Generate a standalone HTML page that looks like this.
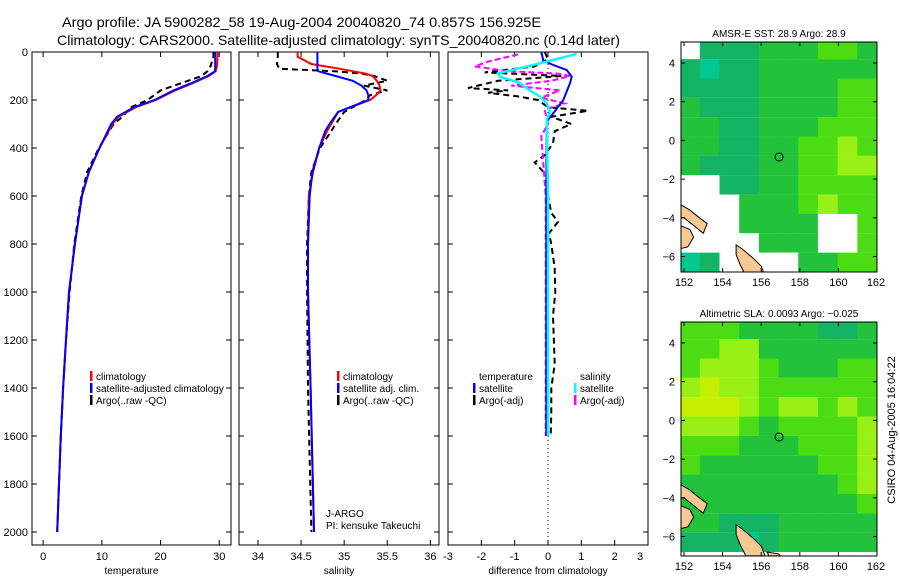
<!DOCTYPE html>
<html><head><meta charset="utf-8"><style>
html,body{margin:0;padding:0;background:#fff;}
svg{display:block;font-family:"Liberation Sans",sans-serif;}
</style></head><body>
<svg id="fig" width="900" height="580" viewBox="0 0 900 580" xmlns="http://www.w3.org/2000/svg">
<text x="62" y="27" font-size="14" textLength="479" lengthAdjust="spacingAndGlyphs">Argo profile: JA 5900282_58 19-Aug-2004 20040820_74 0.857S 156.925E</text>
<text x="57" y="45" font-size="14" textLength="563" lengthAdjust="spacingAndGlyphs">Climatology: CARS2000. Satellite-adjusted climatology: synTS_20040820.nc (0.14d later)</text>
<g id="g"></g>
<text transform="translate(895,430) rotate(-90)" text-anchor="middle" font-size="11">CSIRO 04-Aug-2005 16:04:22</text>
</svg>
<script>
// ---- profile data ----
const tDepth=[0,20,60,80,100,130,160,200,230,270,300,400,500,600,800,1000,1200,1400,1600,1800,2000];
const tClim=[29.7,29.7,29.6,29.4,28.2,25.5,22.5,19.2,15.8,12.8,11.8,9.6,7.8,6.6,5.4,4.4,3.9,3.4,3.0,2.7,2.4];
const tSat=[29.3,29.3,29.3,29.3,28.0,25.2,22.2,19.0,15.5,12.6,11.6,9.6,7.8,6.6,5.4,4.4,3.9,3.4,3.0,2.7,2.4];
const tArgo=[29.0,29.0,28.5,28.0,27.0,23.5,20.0,17.8,15.0,13.5,12.0,9.5,7.5,6.5,5.3,4.5,3.9,3.4,3.0,2.7,2.4];
const sDepth=[0,20,50,70,80,90,100,120,140,160,180,200,250,300,330,400,500,600,800,1000,1400,2000];
const sClim=[34.46,34.46,34.62,34.95,35.10,35.25,35.33,35.38,35.41,35.42,35.37,35.3,34.93,34.85,34.8,34.71,34.64,34.59,34.58,34.58,34.61,34.65];
const sSat=[34.69,34.69,34.69,34.69,34.7,34.8,34.9,35.1,35.2,35.26,35.28,35.28,34.93,34.83,34.78,34.71,34.63,34.6,34.58,34.58,34.61,34.65];
const sArgo=[34.23,34.23,34.22,34.25,34.88,35.2,35.35,35.5,35.23,35.5,35.3,35.25,35.0,34.9,34.85,34.72,34.62,34.59,34.57,34.57,34.58,34.62];
const tdDepth=[0,36,54,75,103,130,200,255,290,600,1000,1600];
const tdSat=[-0.2,-0.14,0.16,0.56,0.71,0.66,0.46,0.16,-0.04,-0.05,-0.05,-0.05];
const sdDepth=[8,47,89,103,130,165,186,214,249,283,600,1000,1600];
const sdSat=[0.86,-0.24,-1.5,-1.44,-0.84,-0.49,-0.24,-0.04,0.06,-0.04,0,0,0];
const mdDepth=[10,40,60,80,90,100,120,140,160,190,215,240,300,350,600,1000,1600];
const mdArgo=[-0.9,-1.8,-2.2,-1.2,0.3,0.66,0.1,-1.1,0.36,-0.2,0.5,-0.1,0,-0.2,-0.07,-0.07,-0.07];
const bdDepth=[0,30,60,85,100,120,150,160,170,185,200,230,245,270,300,330,380,430,460,520,600,670,708,755,800,900,1000,1100,1300,1400,1500,1600];
const bdArgo=[-0.1,0,-0.4,-1.9,0.4,-1.5,-2.4,-1.2,-1.8,-0.9,-0.3,0,1.2,0.1,0.7,0.2,0.15,-0.1,-0.4,0,0,0.1,0.3,0.03,0.1,0.2,0.22,0.15,0.2,0.1,0.1,0.08];
const depthTicks=[0,200,400,600,800,1000,1200,1400,1600,1800,2000];
const tTicks=[0,10,20,30];
const sTicks=[34,34.5,35,35.5,36];
const dTicks=[-3,-2,-1,0,1,2,3];
// ---- map data (colour class per 1-degree cell, rows north->south, cols 152->162) ----
const sstGrid=[
[0,2,2,2,3,3,3,4,4,3],[2,1,2,2,3,3,3,3,3,3],[2,2,2,2,3,3,3,3,4,4],[3,2,2,2,3,3,3,3,4,4],
[3,3,2,2,3,3,3,4,4,4],[3,3,2,2,3,3,4,4,5,4],[3,2,2,2,3,3,4,4,5,5],[0,0,2,2,3,3,4,4,4,4],
[0,0,0,3,3,3,4,5,4,4],[0,0,0,3,3,3,3,0,0,4],[0,0,0,0,3,3,3,0,0,4],[1,2,0,0,0,0,3,3,4,4]];
const slaGrid=[
[4,4,4,3,3,3,3,2,2,3],[4,4,5,5,3,3,3,3,3,3],[4,5,5,5,4,3,3,3,4,4],[5,6,5,5,4,4,4,4,4,4],
[6,6,6,5,4,5,5,4,5,4],[5,5,5,4,3,4,4,4,4,5],[4,4,4,3,3,3,4,4,4,5],[4,3,3,3,3,3,3,4,4,5],
[3,3,3,3,3,3,3,3,4,5],[3,3,3,3,3,3,3,3,3,4],[3,3,2,2,2,3,3,3,3,3],[2,2,2,1,2,3,3,3,3,3]];
const latTicks=[4,2,0,-2,-4,-6];
const lonTicks=[152,154,156,158,160,162];
const argoLon=156.925, argoLat=-0.857;

const NS="http://www.w3.org/2000/svg";
const G=document.getElementById('g');
function mk(tag,attrs,parent){const e=document.createElementNS(NS,tag);for(const k in attrs)e.setAttribute(k,attrs[k]);(parent||G).appendChild(e);return e;}
const yD=d=>52+d*0.24;
const TOP=52,BOT=545;

function panel(name,x0,x1,xmin,xmax,ticks,label,showY){
  const xs=v=>x0+(v-xmin)/(xmax-xmin)*(x1-x0);
  const g=mk('g',{});
  
  
  mk('rect',{x:x0,y:TOP,width:x1-x0,height:BOT-TOP,fill:'none',stroke:'#000','stroke-width':1},g);
  depthTicks.forEach(d=>{
    mk('line',{x1:x0,x2:x0+5,y1:yD(d),y2:yD(d),stroke:'#000'},g);
    mk('line',{x1:x1-5,x2:x1,y1:yD(d),y2:yD(d),stroke:'#000'},g);
    if(showY){const t=mk('text',{x:x0-4,y:yD(d)+4,'text-anchor':'end','font-size':11},g);t.textContent=d;
      
      }
  });
  ticks.forEach(v=>{
    const x=xs(v);
    if(x>x0+1&&x<x1-1){mk('line',{x1:x,x2:x,y1:TOP,y2:TOP+5,stroke:'#000'},g);
    mk('line',{x1:x,x2:x,y1:BOT-5,y2:BOT,stroke:'#000'},g);}
    const t=mk('text',{x:Math.min(x,x1-8),y:560,'text-anchor':'middle','font-size':11},g);t.textContent=v;
    
    
  });
  const l=mk('text',{x:(x0+x1)/2,y:574,'text-anchor':'middle','font-size':10},g);l.textContent=label;
  
  
  return {xs,g};
}
function line(p,vals,depths,color,dash,name,w){
  const pts=vals.map((v,i)=>p.xs(v).toFixed(1)+','+yD(depths[i]).toFixed(1)).join(' ');
  const e=mk('polyline',{points:pts,fill:'none',stroke:color,'stroke-width':w||2,'stroke-dasharray':dash||'none'},p.g);
  
  
}
function legend(g,x,y,items){
  items.forEach((it,i)=>{
    if(it[1]) mk('rect',{x:x,y:y+i*12-9,width:2.5,height:10,fill:it[1]},g);
    const t=mk('text',{x:x+6,y:y+i*12,'font-size':10},g);t.textContent=it[0];
    
    
  });
}
const p1=panel('temperature-panel',32,231,-1.9,32,tTicks,'temperature',true);
line(p1,tArgo,tDepth,'#000','6,4','temperature-argo-line');
line(p1,tClim,tDepth,'#f00',null,'temperature-climatology-line');
line(p1,tSat,tDepth,'#00f',null,'temperature-satellite-line');
legend(p1.g,90,380,[['climatology','#f00'],['satellite-adjusted climatology','#00f'],['Argo(..raw -QC)','#000']]);
const p2=panel('salinity-panel',239,439,33.78,36.1,sTicks,'salinity',false);
line(p2,sArgo,sDepth,'#000','6,4','salinity-argo-line');
line(p2,sClim,sDepth,'#f00',null,'salinity-climatology-line');
line(p2,sSat,sDepth,'#00f',null,'salinity-satellite-line');
legend(p2.g,337,380,[['climatology','#f00'],['satellite adj. clim.','#00f'],['Argo(..raw -QC)','#000']]);
const j1=mk('text',{x:326,y:517,'font-size':10},p2.g);j1.textContent='J-ARGO';


const j2=mk('text',{x:326,y:529,'font-size':10},p2.g);j2.textContent='PI: kensuke Takeuchi';


const p3=panel('difference-panel',448,648,-3,3,dTicks,'difference from climatology',false);
mk('line',{x1:p3.xs(0),x2:p3.xs(0),y1:TOP,y2:BOT,stroke:'#000','stroke-dasharray':'1,3'},p3.g);
line(p3,bdArgo,bdDepth,'#000','6,4','temperature-argo-diff-line');
line(p3,mdArgo,mdDepth,'#f0f','6,3','salinity-argo-diff-line');
line(p3,tdSat,tdDepth,'#00f',null,'temperature-satellite-diff-line');
line(p3,sdSat,sdDepth,'#0ff',null,'salinity-satellite-diff-line',2.5);
legend(p3.g,473,380,[['temperature',null],['satellite','#00f'],['Argo(-adj)','#000']]);
legend(p3.g,574,380,[['salinity',null],['satellite','#0ff'],['Argo(-adj)','#f0f']]);

const pal=['#ffffff','#00c890','#14b464','#22c23a','#4cdc14','#98f014','#c4f000'];
function map(name,y0,y1,grid,title){
  const x0=681,x1=877;
  const lx=lon=>684+(lon-152)*19.3;
  const ly=lat=>(y0+21)+(4-lat)*19.35;
  const g=mk('g',{});
  
  
  const cid='c'+y0;
  const cp=mk('clipPath',{id:cid},g);mk('rect',{x:x0,y:y0,width:x1-x0,height:y1-y0},cp);
  const cg=mk('g',{'clip-path':'url(#'+cid+')'},g);
  grid.forEach((row,r)=>row.forEach((c,k)=>{
    mk('rect',{x:lx(151.8+k*1.02),y:ly(5.2-r),width:19.3*1.02+0.6,height:19.4,fill:pal[c]},cg);
  }));
  const land=[[[151.8,-3.3],[152.3,-3.6],[152.8,-4.0],[153.2,-4.3],[153.0,-4.8],[152.5,-4.4],[152.0,-4.0],[151.8,-4.0]],
    [[151.8,-4.4],[152.3,-4.6],[152.5,-5.0],[152.2,-5.5],[151.8,-5.6]],
    [[154.7,-5.4],[155.0,-5.6],[155.6,-6.1],[156.0,-6.5],[156.2,-7],[155.2,-7],[154.9,-6.4],[154.7,-5.9]],
    [[156.3,-6.8],[156.9,-6.9],[157.0,-7],[156.4,-7]]];
  land.forEach(poly=>{
    const e=mk('polygon',{points:poly.map(p=>lx(p[0])+','+ly(p[1])).join(' '),fill:'#f8c894',stroke:'#000','stroke-width':1},cg);
    
    
  });
  mk('rect',{x:x0,y:y0,width:x1-x0,height:y1-y0,fill:'none',stroke:'#000'},g);
  const m=mk('circle',{cx:lx(argoLon),cy:ly(argoLat),r:4,fill:'none',stroke:'#000','stroke-width':1},g);
  
  
  latTicks.forEach(v=>{
    mk('line',{x1:x0,x2:x0+4,y1:ly(v),y2:ly(v),stroke:'#000'},g);
    mk('line',{x1:x1-4,x2:x1,y1:ly(v),y2:ly(v),stroke:'#000'},g);
    const t=mk('text',{x:x0-6,y:ly(v)+4,'text-anchor':'end','font-size':11},g);t.textContent=v<0?'\u2212'+(-v):v;
    
    
  });
  lonTicks.forEach(v=>{
    mk('line',{x1:lx(v),x2:lx(v),y1:y0,y2:y0+4,stroke:'#000'},g);
    mk('line',{x1:lx(v),x2:lx(v),y1:y1-4,y2:y1,stroke:'#000'},g);
    const t=mk('text',{x:Math.min(lx(v),876),y:y1+14,'text-anchor':'middle','font-size':11},g);t.textContent=v;
    
    
  });
  const tt=mk('text',{x:(x0+x1)/2,y:y0-5,'text-anchor':'middle','font-size':10},g);tt.textContent=title;
  
  
}
map('sst-map',42,272,sstGrid,'AMSR-E SST: 28.9 Argo: 28.9');
map('sla-map',322,556,slaGrid,'Altimetric SLA: 0.0093 Argo: \u22120.025');
</script>
</body></html>
